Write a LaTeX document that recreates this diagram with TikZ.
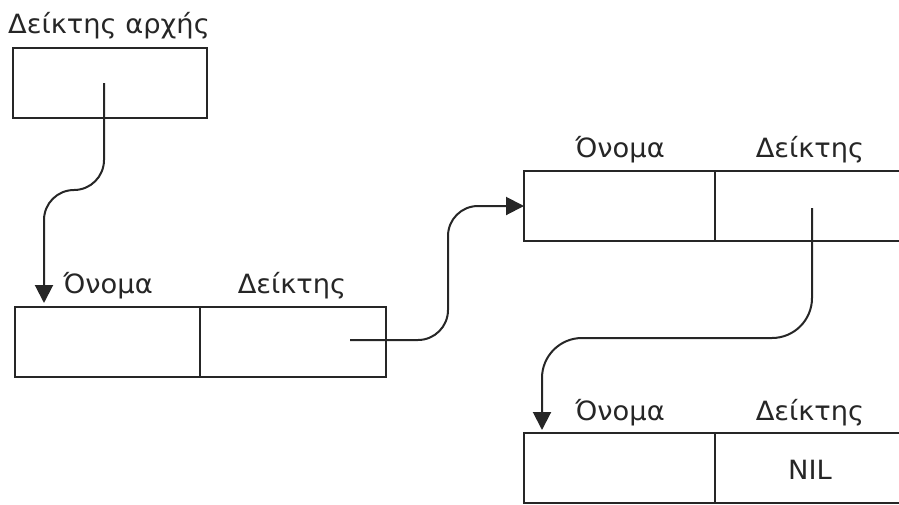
\documentclass[tikz,border=0pt]{standalone}
\usepackage{fontspec}
\usepackage{graphicx}
\usetikzlibrary{arrows.meta,calc}
\newfontfamily\lblfont{DejaVu Sans}
\definecolor{ink}{HTML}{262626}
\newcommand{\wide}[1]{\scalebox{1.03}[1]{#1}}
\begin{document}
\begin{tikzpicture}[x=1pt,y=-1pt,
  field/.style={draw=ink,line width=2pt,inner sep=0pt,outer sep=0pt,minimum height=70pt,anchor=north west},
  lbl/.style={text=ink,inner sep=0pt,anchor=base,font=\lblfont\fontsize{26.5}{26.5}\selectfont},
  link/.style={draw=ink,line width=2pt,rounded corners=30pt,-{Triangle[length=18pt,width=18pt]}}]
\useasboundingbox (0,0) rectangle (899,504);
\clip (0,0) rectangle (899,504);
% head pointer
\node[lbl,anchor=base west] (title) at (8,33) {\wide{Δείκτης αρχής}};
\node[field,minimum width=194pt] (start) at (13,48) {};
% node 1
\node[field,minimum width=185pt] (n1name) at (15,307) {};
\node[field,minimum width=186pt] (n1ptr) at (n1name.north east) {};
\node[lbl] (l1a) at (108,293) {\wide{Όνομα}};
\node[lbl] (l1b) at (292,293) {\wide{Δείκτης}};
% node 2
\node[field,minimum width=191pt] (n2name) at (524,171) {};
\node[field,minimum width=200pt] (n2ptr) at (n2name.north east) {};
\node[lbl] (l2a) at (620,157) {\wide{Όνομα}};
\node[lbl] (l2b) at (810,157) {\wide{Δείκτης}};
% node 3
\node[field,minimum width=191pt] (n3name) at (524,433) {};
\node[field,minimum width=200pt] (n3ptr) at (n3name.north east) {};
\node[lbl] (l3a) at (620,420) {\wide{Όνομα}};
\node[lbl] (l3b) at (810,420) {\wide{Δείκτης}};
\node[lbl] (nil) at (810,479) {\wide{NIL}};
% pointer origins and targets
\coordinate (p0) at (104,83);
\coordinate (t0) at ($(n1name.north west)+(29,-4)$);
\coordinate (p1) at (350,340);
\coordinate (p2) at (812,208);
\coordinate (t2) at ($(n3name.north west)+(18,-3)$);
% connectors
\draw[link] (p0) -- (104,190) -- (t0 |- 0,190) -- (t0);
\draw[link] (p1) -- (448,340) -- (448,206) -- (n2name.west);
\draw[link,rounded corners=40pt] (p2) -- (812,338) -- (t2 |- 0,338) -- (t2);
\end{tikzpicture}
\end{document}
